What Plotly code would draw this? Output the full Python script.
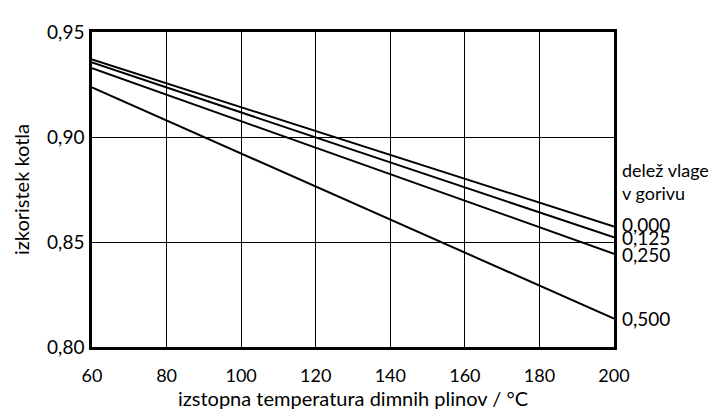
import plotly.graph_objects as go

# izstopna temperatura dimnih plinov (degC)
temperature = [60, 200]

# izkoristek kotla for each moisture share
moisture_labels = ["0,000", "0,125", "0,250", "0,500"]
eff_000 = [0.9369, 0.8574]
eff_125 = [0.9355, 0.8522]
eff_250 = [0.9328, 0.8444]
eff_500 = [0.9236, 0.8135]

x_ticks = [60, 80, 100, 120, 140, 160, 180, 200]
y_ticks = [0.80, 0.85, 0.90, 0.95]
y_tick_text = ["0,80", "0,85", "0,90", "0,95"]

font_family = "Lato"
label_shift = [2, 0, -1, 0]  # small nudges so the stacked labels sit like the original

fig = go.Figure()
for name, eff, dy in zip(moisture_labels, [eff_000, eff_125, eff_250, eff_500], label_shift):
    fig.add_trace(go.Scatter(x=temperature, y=eff, mode="lines", name=name,
                             line=dict(color="black", width=2),
                             showlegend=False, cliponaxis=False))
    fig.add_annotation(x=temperature[-1], y=eff[-1], text=name, xref="x", yref="y",
                       showarrow=False, xanchor="left", yanchor="middle", xshift=6, yshift=dy,
                       font=dict(size=19, color="black", family=font_family))

# legend heading, two separate lines to get the tight line spacing
for text, yy in [("delež vlage", 0.8842), ("v gorivu", 0.8732)]:
    fig.add_annotation(x=1, y=yy, xref="paper", yref="y", text=text, showarrow=False,
                       xanchor="left", yanchor="middle", xshift=6,
                       font=dict(size=18, color="black", family=font_family))

axis_common = dict(showgrid=True, gridcolor="black", gridwidth=1, showline=True,
                   linecolor="black", linewidth=2.5, mirror=True, ticks="",
                   zeroline=False)

fig.update_xaxes(range=[60, 200], tickvals=x_ticks, ticklabelstandoff=11,
                 tickfont=dict(size=18, color="black", family=font_family),
                 title=dict(text="izstopna temperatura dimnih plinov / °C",
                            font=dict(size=20, color="black", family=font_family), standoff=4),
                 **axis_common)
fig.update_yaxes(range=[0.80, 0.95], tickvals=y_ticks, ticktext=y_tick_text,
                 ticklabelstandoff=1,
                 tickfont=dict(size=19, color="black", family=font_family),
                 title=dict(text="izkoristek kotla",
                            font=dict(size=20, color="black", family=font_family), standoff=13),
                 **axis_common)

# page body adds an 8px margin, so the figure is 8px smaller and margins shifted
fig.update_layout(width=709, height=408, plot_bgcolor="white", paper_bgcolor="white",
                  margin=dict(l=77, r=103, t=12, b=56),
                  font=dict(family=font_family, color="black"))

fig.write_html("out.html")
